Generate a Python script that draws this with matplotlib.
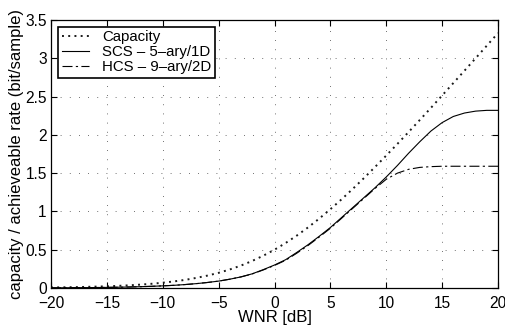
import numpy as np
import matplotlib
matplotlib.use("Agg")
import matplotlib.pyplot as plt

plt.rcParams['font.family'] = ['Liberation Sans', 'DejaVu Sans']

# WNR axis (dB)
wnr = list(range(-20, 21))

# capacity curve
capacity = [0.007, 0.009, 0.011, 0.014, 0.018, 0.022, 0.028, 0.035, 0.044, 0.055,
            0.069, 0.086, 0.106, 0.132, 0.162, 0.198, 0.242, 0.293, 0.353, 0.422,
            0.500, 0.588, 0.685, 0.791, 0.906, 1.029, 1.158, 1.294, 1.435, 1.581,
            1.730, 1.882, 2.037, 2.194, 2.353, 2.514, 2.676, 2.838, 3.001, 3.165,
            3.329]

# SCS - 5-ary/1D
scs = [0.002, 0.003, 0.004, 0.005, 0.006, 0.008, 0.010, 0.013, 0.017, 0.022,
       0.028, 0.035, 0.045, 0.057, 0.072, 0.090, 0.115, 0.145, 0.185, 0.240,
       0.300, 0.370, 0.465, 0.565, 0.675, 0.790, 0.920, 1.050, 1.180, 1.310,
       1.450, 1.600, 1.760, 1.910, 2.050, 2.160, 2.240, 2.285, 2.310, 2.320,
       2.320]

# HCS - 9-ary/2D
hcs = [0.002, 0.003, 0.004, 0.005, 0.006, 0.008, 0.010, 0.013, 0.017, 0.022,
       0.028, 0.035, 0.045, 0.057, 0.072, 0.090, 0.115, 0.145, 0.183, 0.236,
       0.295, 0.362, 0.455, 0.555, 0.665, 0.780, 0.910, 1.040, 1.170, 1.300,
       1.420, 1.500, 1.550, 1.575, 1.585, 1.590, 1.590, 1.590, 1.590, 1.590,
       1.590]

xticks = [-20, -15, -10, -5, 0, 5, 10, 15, 20]
yticks = [0, 0.5, 1, 1.5, 2, 2.5, 3, 3.5]
ytick_labels = ['0', '0.5', '1', '1.5', '2', '2.5', '3', '3.5']

fig = plt.figure(figsize=(5.05, 3.29), dpi=100)
ax = fig.add_axes([51 / 505, 1 - 288 / 329, 447 / 505, 268 / 329])

ax.plot(wnr, capacity, color='0.1', lw=1.4, linestyle=(0, (1, 2.2)), label='Capacity')
ax.plot(wnr, scs, color='black', lw=0.8, linestyle='-', label='SCS \u2013 5\u2013ary/1D')
ax.plot(wnr, hcs, color='black', lw=0.8, linestyle=(0, (9, 3, 2, 3)), label='HCS \u2013 9\u2013ary/2D')

ax.set_xlim(-20, 20)
ax.set_ylim(0, 3.5)
ax.set_xticks(xticks)
ax.set_xticklabels(['\u2212' + str(-t) if t < 0 else str(t) for t in xticks])
ax.set_yticks(yticks)
ax.set_yticklabels(ytick_labels)
ax.tick_params(direction='in', length=4, width=0.8, top=True, right=True,
               labelsize=11.2, colors='black', pad=3)
ax.tick_params(axis='x', pad=5.5)
ax.grid(True, color='0.25', linestyle=(0, (1, 10)), linewidth=0.6)
for s in ax.spines.values():
    s.set_linewidth(0.9)

ax.set_xlabel('WNR [dB]', fontsize=12, labelpad=-0.5)
ax.set_ylabel('capacity / achieveable rate (bit/sample)', fontsize=12, labelpad=1)

leg = ax.legend(loc='upper left', fontsize=10.8, frameon=True, fancybox=False,
                edgecolor='black', handlelength=1.8, borderaxespad=0.45,
                labelspacing=0.05, borderpad=0.25, handletextpad=0.9)
leg.get_frame().set_linewidth(1.2)
leg.get_frame().set_alpha(1)

fig.savefig('out.png', dpi=100)
